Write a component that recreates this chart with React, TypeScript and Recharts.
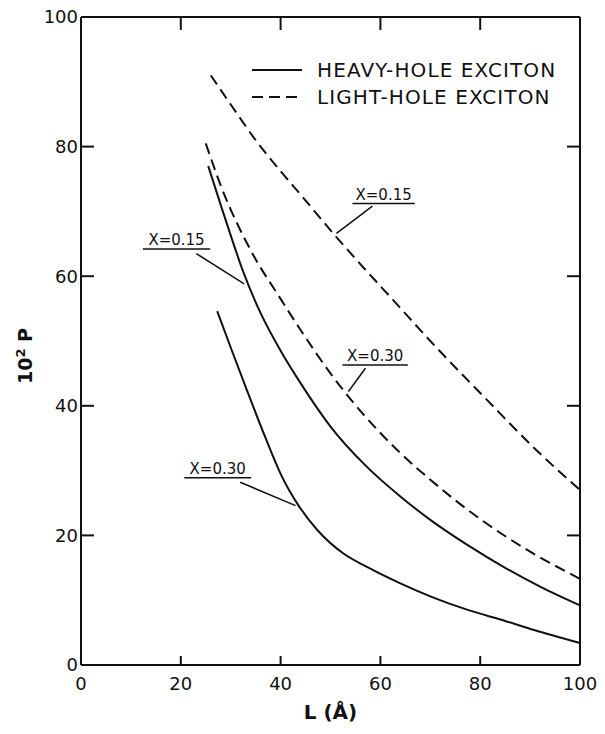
import React from 'react';
import { LineChart, Line, XAxis, YAxis, Legend, ReferenceLine, Label } from 'recharts';

// heavy-hole exciton, x = 0.15 and x = 0.30
const hh015L = [25.5, 28, 30, 32.5, 36, 40, 44, 50, 57, 64, 70, 77.5, 85, 92, 100];
const hh015P = [77, 71, 66.3, 60.7, 54.3, 48.5, 43.5, 36.8, 30.8, 26, 22.4, 18.5, 15, 12.1, 9.2];
const hh030L = [27.3, 30, 33.3, 37, 40, 43.6, 47.4, 52.6, 57.4, 64, 70, 77.5, 85, 90.8, 100];
const hh030P = [54.6, 49, 42.3, 35, 29.5, 24.6, 20.8, 17.2, 15.1, 12.6, 10.6, 8.5, 6.8, 5.4, 3.4];

// light-hole exciton
const lh015L = [26, 30, 35, 40, 44, 51, 57, 62.7, 70, 81.5, 90.8, 100];
const lh015P = [91, 86.5, 81, 76.2, 72.6, 66.2, 61, 56.2, 50, 40.8, 33.5, 27];
const lh030L = [25, 28, 34, 40, 44, 50, 53.4, 60, 64, 70, 79.5, 90, 100];
const lh030P = [80.5, 74, 64, 56.5, 51.7, 45, 41.6, 35.8, 32.7, 28.6, 22.8, 17.5, 13.3];

const xTicks = [0, 20, 40, 60, 80, 100];
const yTicks = [0, 20, 40, 60, 80, 100];

const pairs = (ls: number[], ps: number[]) => ls.map((L, i) => ({ L, P: ps[i] }));

const FONT = '"DejaVu Sans", sans-serif';
const INK = '#111';

const NoLabel = () => null;

const LegendBox = () => (
  <svg width={350} height={60}>
    <line x1={2} y1={16} x2={52} y2={16} stroke={INK} strokeWidth={2} />
    <text x={67} y={23} fontSize={20} letterSpacing={1.1} fontFamily={FONT} fill={INK}>HEAVY-HOLE EXCITON</text>
    <line x1={2} y1={43} x2={52} y2={43} stroke={INK} strokeWidth={2} strokeDasharray="11 6" />
    <text x={67} y={50} fontSize={20} letterSpacing={1.1} fontFamily={FONT} fill={INK}>LIGHT-HOLE EXCITON</text>
  </svg>
);

const YTitle = () => (
  <text transform="rotate(-90, 25, 356)" x={25} y={356} dy="0.36em" textAnchor="middle"
    fontSize={19} fontFamily={FONT} fontWeight="bold" fill={INK}>
    10<tspan dy={-7} fontSize={13}>2</tspan><tspan dy={7}> P</tspan>
  </text>
);

const tag = (value: string) => ({
  value, position: 'top' as const, offset: 4, fontSize: 15, fontFamily: FONT, fill: INK,
});

export default function App() {
  const lineProps = {
    type: 'monotone' as const, dataKey: 'P', stroke: INK, strokeWidth: 2,
    dot: false, activeDot: false, isAnimationActive: false,
  };
  const frame = { stroke: INK, strokeWidth: 2 };
  const tickLine = { stroke: INK, strokeWidth: 2 };
  const tickFont = { fontSize: 18, fontFamily: FONT, fill: INK };
  return (
    <div style={{ position: 'absolute', left: 0, top: 0, width: 605, height: 734, background: '#fff' }}>
      <LineChart width={605} height={734} margin={{ top: 16, right: 24, bottom: 9, left: 21 }}>
        {/* inward ticks: negative tick size, labels pushed out with tickMargin */}
        <XAxis dataKey="L" type="number" domain={[0, 100]} ticks={xTicks} height={60}
          axisLine={frame} tickLine={tickLine} tickSize={-9} tickMargin={21}
          tick={tickFont} interval={0}>
          <Label value="L (Å)" position="insideBottom" offset={6} fontSize={20}
            fontWeight="bold" fontFamily={FONT} fill={INK} />
        </XAxis>
        <XAxis xAxisId="t" dataKey="L" orientation="top" type="number" domain={[0, 100]} ticks={xTicks}
          height={1} axisLine={frame} tickLine={tickLine} tickSize={-13}
          tick={<NoLabel />} interval={0} />
        <YAxis type="number" domain={[0, 100]} ticks={yTicks} width={60}
          axisLine={frame} tickLine={tickLine} tickSize={-13} tickMargin={16}
          tick={tickFont} interval={0}>
          <Label content={<YTitle />} />
        </YAxis>
        <YAxis yAxisId="r" orientation="right" type="number" domain={[0, 100]} ticks={yTicks}
          width={1} axisLine={frame} tickLine={tickLine} tickSize={-13}
          tick={<NoLabel />} interval={0} />

        <Line {...lineProps} data={pairs(hh015L, hh015P)} name="hh015" />
        <Line {...lineProps} data={pairs(hh030L, hh030P)} name="hh030" />
        <Line {...lineProps} data={pairs(lh015L, lh015P)} name="lh015" strokeDasharray="11 6"
          xAxisId="t" yAxisId="r" />
        <Line {...lineProps} data={pairs(lh030L, lh030P)} name="lh030" strokeDasharray="11 6" />

        {/* curve labels with underline and pointer */}
        <ReferenceLine segment={[{ x: 54.4, y: 71.2 }, { x: 66.9, y: 71.2 }]} stroke={INK}
          strokeWidth={1.5} ifOverflow="visible" label={tag('X=0.15')} />
        <ReferenceLine segment={[{ x: 58.4, y: 70.8 }, { x: 51.2, y: 66.6 }]} stroke={INK}
          strokeWidth={1.5} ifOverflow="visible" />
        <ReferenceLine segment={[{ x: 52.4, y: 46.3 }, { x: 65.5, y: 46.3 }]} stroke={INK}
          strokeWidth={1.5} ifOverflow="visible" label={tag('X=0.30')} />
        <ReferenceLine segment={[{ x: 57.0, y: 45.8 }, { x: 53.6, y: 42.2 }]} stroke={INK}
          strokeWidth={1.5} ifOverflow="visible" />
        <ReferenceLine segment={[{ x: 12.4, y: 64.2 }, { x: 25.9, y: 64.2 }]} stroke={INK}
          strokeWidth={1.5} ifOverflow="visible" label={tag('X=0.15')} />
        <ReferenceLine segment={[{ x: 23.1, y: 63.5 }, { x: 32.7, y: 58.8 }]} stroke={INK}
          strokeWidth={1.5} ifOverflow="visible" />
        <ReferenceLine segment={[{ x: 20.7, y: 28.9 }, { x: 34.1, y: 28.9 }]} stroke={INK}
          strokeWidth={1.5} ifOverflow="visible" label={tag('X=0.30')} />
        <ReferenceLine segment={[{ x: 31.9, y: 28.2 }, { x: 43.0, y: 24.6 }]} stroke={INK}
          strokeWidth={1.5} ifOverflow="visible" />

        <Legend layout="vertical" align="center" verticalAlign="middle" content={<LegendBox />}
          wrapperStyle={{ position: 'absolute', left: 250, top: 54, width: 350, height: 60 }} />
      </LineChart>
    </div>
  );
}
